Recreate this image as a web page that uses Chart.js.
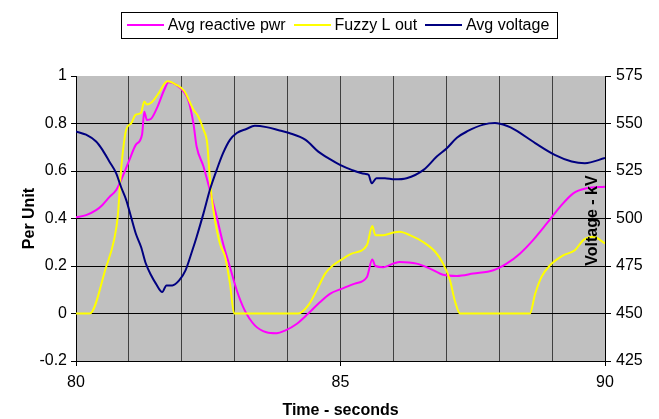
<!DOCTYPE html>
<html lang="en">

<head>
    <meta charset="UTF-8">
    <title>Avg reactive pwr / Fuzzy L out / Avg voltage</title>
    <script src="https://cdn.jsdelivr.net/npm/chart.js"></script>
    <style>
        body { margin: 0; background: #fff; }
    </style>
</head>

<body>
    <canvas id="chart" width="659" height="419"></canvas>
    <script>
        // values (time in seconds)
        const reactiveTime = [80.00, 80.19, 80.38, 80.50, 80.63, 80.76, 80.88, 81.01, 81.13, 81.25, 81.29, 81.34, 81.42, 81.54,
            81.67, 81.75, 81.89, 82.05, 82.12, 82.22, 82.28, 82.41, 82.53, 82.66, 82.78, 82.91, 83.04, 83.19, 83.38, 83.60,
            83.79, 83.95, 84.17, 84.39, 84.58, 84.80, 85.02, 85.27, 85.50, 85.60, 85.66, 85.81, 86.00, 86.12, 86.44, 86.69,
            86.94, 87.20, 87.51, 87.89, 88.14, 88.39, 88.64, 88.90, 89.15, 89.40, 89.65, 90.00];
        const reactivePu = [0.405, 0.414, 0.435, 0.457, 0.49, 0.52, 0.576, 0.647, 0.71, 0.755, 0.85, 0.815, 0.82, 0.87,
            0.943, 0.974, 0.964, 0.93, 0.90, 0.80, 0.703, 0.619, 0.52, 0.407, 0.295, 0.196, 0.097, 0.013, -0.05, -0.079,
            -0.083, -0.072, -0.044, 0, 0.041, 0.083, 0.104, 0.126, 0.154, 0.227, 0.2, 0.195, 0.21, 0.217, 0.21, 0.189,
            0.163, 0.158, 0.168, 0.182, 0.21, 0.252, 0.309, 0.379, 0.449, 0.506, 0.527, 0.534];

        const fuzzyTime = [80.00, 80.26, 80.57, 80.72, 80.79, 80.85, 80.95, 81.04, 81.13, 81.23, 81.29, 81.34, 81.42, 81.54,
            81.73, 81.89, 82.05, 82.22, 82.31, 82.41, 82.48, 82.52, 82.565, 82.63, 82.72, 82.82, 82.91, 82.99, 84.20, 84.39,
            84.58, 84.71, 84.86, 85.02, 85.21, 85.50, 85.60, 85.66, 85.81, 86.00, 86.12, 86.31, 86.57, 86.79, 86.94, 87.07,
            87.16, 87.26, 88.58, 88.68, 88.80, 88.96, 89.21, 89.43, 89.59, 89.78, 90.00];
        const fuzzyPu = [0, 0, 0.196, 0.31, 0.41, 0.60, 0.775, 0.80, 0.837, 0.845, 0.893, 0.88, 0.887, 0.92,
            0.978, 0.964, 0.936, 0.858, 0.83, 0.774, 0.717, 0.60, 0.49, 0.39, 0.295, 0.238, 0.127, 0, 0, 0.034,
            0.111, 0.168, 0.203, 0.227, 0.252, 0.288, 0.368, 0.33, 0.33, 0.341, 0.344, 0.33, 0.30, 0.26, 0.21, 0.14,
            0.055, 0, 0, 0.083, 0.154, 0.203, 0.245, 0.266, 0.309, 0.323, 0.295];

        const voltageTime = [80.00, 80.19, 80.38, 80.50, 80.63, 80.76, 80.85, 80.95, 81.04, 81.13, 81.23, 81.32, 81.42, 81.51,
            81.63, 81.71, 81.82, 81.95, 82.07, 82.20, 82.28, 82.41, 82.53, 82.66, 82.78, 82.91, 83.04, 83.22, 83.38, 83.60,
            83.85, 84.03, 84.34, 84.58, 84.80, 84.99, 85.21, 85.46, 85.53, 85.59, 85.68, 85.84, 86.02, 86.25, 86.57, 86.82,
            87.01, 87.20, 87.39, 87.70, 87.92, 88.14, 88.30, 88.68, 89.05, 89.37, 89.62, 90.00];
        const voltageKv = [545.8, 544.1, 540.5, 536.1, 530, 523.8, 516.7, 509.7, 500.9, 492.1, 485, 476.3, 470.1, 465.7,
            461.3, 464.8, 464.8, 467.4, 472.7, 483.3, 490.3, 502.7, 515, 525.6, 534.4, 541.4, 545, 547.1, 548.8, 548.1,
            546.3, 545, 541.4, 535.2, 531.2, 528.2, 525.6, 523.5, 523.0, 518.5, 521.2, 521.2, 520.6, 521.2, 525.6, 532.6,
            537, 542.5, 545.8, 549.4, 550.2, 548.8, 546.7, 539.7, 533.5, 530, 529.1, 531.8];

        // axis ticks
        const timeGrid = [80, 81, 82, 83, 84, 85, 86, 87, 88, 89, 90];
        const timeLabels = [80, 85, 90];
        const puTicks = [-0.2, 0, 0.2, 0.4, 0.6, 0.8, 1];
        const kvTicks = [425, 450, 475, 500, 525, 550, 575];

        const FONT = "'Liberation Sans', Arial, sans-serif";
        Chart.defaults.font.family = FONT;
        Chart.defaults.color = '#000';

        function toPoints(times, values) {
            return times.map((t, i) => ({ x: t, y: values[i] }));
        }

        // little line sample used as legend symbol
        function legendLine(color) {
            const c = document.createElement('canvas');
            c.width = 37;
            c.height = 2;
            const g = c.getContext('2d');
            g.fillStyle = color;
            g.fillRect(0, 0, 37, 2);
            return c;
        }

        const plotFrame = {
            id: 'plotFrame',
            afterLayout(chart) {
                // legend sits near the top, well above the plot
                const lg = chart.legend;
                const h = lg.height;
                lg.top = 4.5;
                lg.bottom = lg.top + h;
            },
            beforeDraw(chart) {
                const { ctx, chartArea: a } = chart;
                ctx.save();
                ctx.fillStyle = '#c0c0c0';
                ctx.fillRect(a.left, a.top, a.right - a.left, a.bottom - a.top);
                ctx.restore();
            },
            afterDraw(chart) {
                const { ctx, chartArea: a } = chart;
                const boxes = chart.legend.legendHitBoxes;
                if (boxes && boxes.length) {
                    const first = boxes[0];
                    const last = boxes[boxes.length - 1];
                    const cy = first.top + 8;
                    const left = Math.round(first.left - 10.2) + 0.5;
                    const right = Math.round(last.left + last.width + 7.7) + 0.5;
                    ctx.save();
                    ctx.strokeStyle = '#000';
                    ctx.lineWidth = 1;
                    ctx.strokeRect(left, Math.round(cy - 13) + 0.5, right - left, 26);
                    ctx.restore();
                }
                // right axis title, reads bottom to top and overlaps the plot edge
                ctx.save();
                ctx.translate(a.right - 12, (a.top + a.bottom) / 2 + 2);
                ctx.rotate(-Math.PI / 2);
                ctx.font = 'bold 16px ' + FONT;
                ctx.fillStyle = '#000';
                ctx.textAlign = 'center';
                ctx.textBaseline = 'middle';
                ctx.fillText('Voltage - kV', 0, 0);
                ctx.restore();
            }
        };

        new Chart(document.getElementById('chart'), {
            type: 'line',
            data: {
                datasets: [
                    { label: 'Avg reactive pwr', data: toPoints(reactiveTime, reactivePu), borderColor: '#ff00ff', yAxisID: 'y', order: 2 },
                    { label: 'Fuzzy L out', data: toPoints(fuzzyTime, fuzzyPu), borderColor: '#ffff00', yAxisID: 'y', order: 1 },
                    { label: 'Avg voltage', data: toPoints(voltageTime, voltageKv), borderColor: '#000080', yAxisID: 'y2', order: 0 }
                ]
            },
            options: {
                responsive: false,
                animation: false,
                layout: { padding: { top: 37.2, right: 16.3, bottom: 0, left: 0 } },
                elements: {
                    point: { radius: 0 },
                    line: { borderWidth: 2, cubicInterpolationMode: 'monotone' }
                },
                plugins: {
                    tooltip: { enabled: false },
                    legend: {
                        position: 'top',
                        fullSize: false,
                        labels: {
                            usePointStyle: true,
                            pointStyleWidth: 28,
                            padding: 12.8,
                            font: { size: 16 },
                            color: '#000',
                            generateLabels(chart) {
                                const items = Chart.defaults.plugins.legend.labels.generateLabels(chart);
                                items.forEach(it => {
                                    it.pointStyle = legendLine(chart.data.datasets[it.datasetIndex].borderColor);
                                });
                                return items.sort((a, b) => a.datasetIndex - b.datasetIndex);
                            }
                        }
                    }
                },
                scales: {
                    x: {
                        type: 'linear',
                        min: 80,
                        max: 90,
                        afterBuildTicks: s => { s.ticks = timeGrid.map(v => ({ value: v })); },
                        afterFit: s => { s.height = 58; },
                        ticks: {
                            autoSkip: false,
                            maxRotation: 0,
                            padding: 7.4,
                            font: { size: 16 },
                            callback: v => timeLabels.includes(v) ? String(v) : ''
                        },
                        grid: {
                            color: '#404040',
                            tickLength: 5,
                            tickColor: ctx => timeLabels.includes(ctx.tick.value) ? '#000' : 'rgba(0,0,0,0)'
                        },
                        border: { color: '#000' },
                        title: {
                            display: true,
                            text: 'Time - seconds',
                            font: { size: 16, weight: 'bold', lineHeight: 1 },
                            padding: { top: 10.4, bottom: 0 }
                        }
                    },
                    y: {
                        position: 'left',
                        min: -0.2,
                        max: 1,
                        afterBuildTicks: s => { s.ticks = puTicks.map(v => ({ value: v })); },
                        afterFit: s => { s.width = 76; },
                        ticks: {
                            padding: 4,
                            font: { size: 16 },
                            callback: v => String(v)
                        },
                        grid: {
                            color: ctx => ctx.tick && ctx.tick.value === 1 ? 'rgba(0,0,0,0)' : '#000',
                            tickColor: '#000',
                            tickLength: 5
                        },
                        border: { color: '#000' },
                        title: {
                            display: true,
                            text: 'Per Unit',
                            font: { size: 16, weight: 'bold', lineHeight: 1 },
                            padding: { top: 22, bottom: 1.4 }
                        }
                    },
                    y2: {
                        position: 'right',
                        min: 425,
                        max: 575,
                        afterBuildTicks: s => { s.ticks = kvTicks.map(v => ({ value: v })); },
                        afterFit: s => { s.width = 37.7; },
                        ticks: {
                            padding: 5,
                            font: { size: 16 },
                            callback: v => String(v)
                        },
                        grid: {
                            drawOnChartArea: false,
                            tickColor: '#000',
                            tickLength: 6
                        },
                        border: { color: '#000' }
                    }
                }
            },
            plugins: [plotFrame]
        });
    </script>
</body>

</html>
